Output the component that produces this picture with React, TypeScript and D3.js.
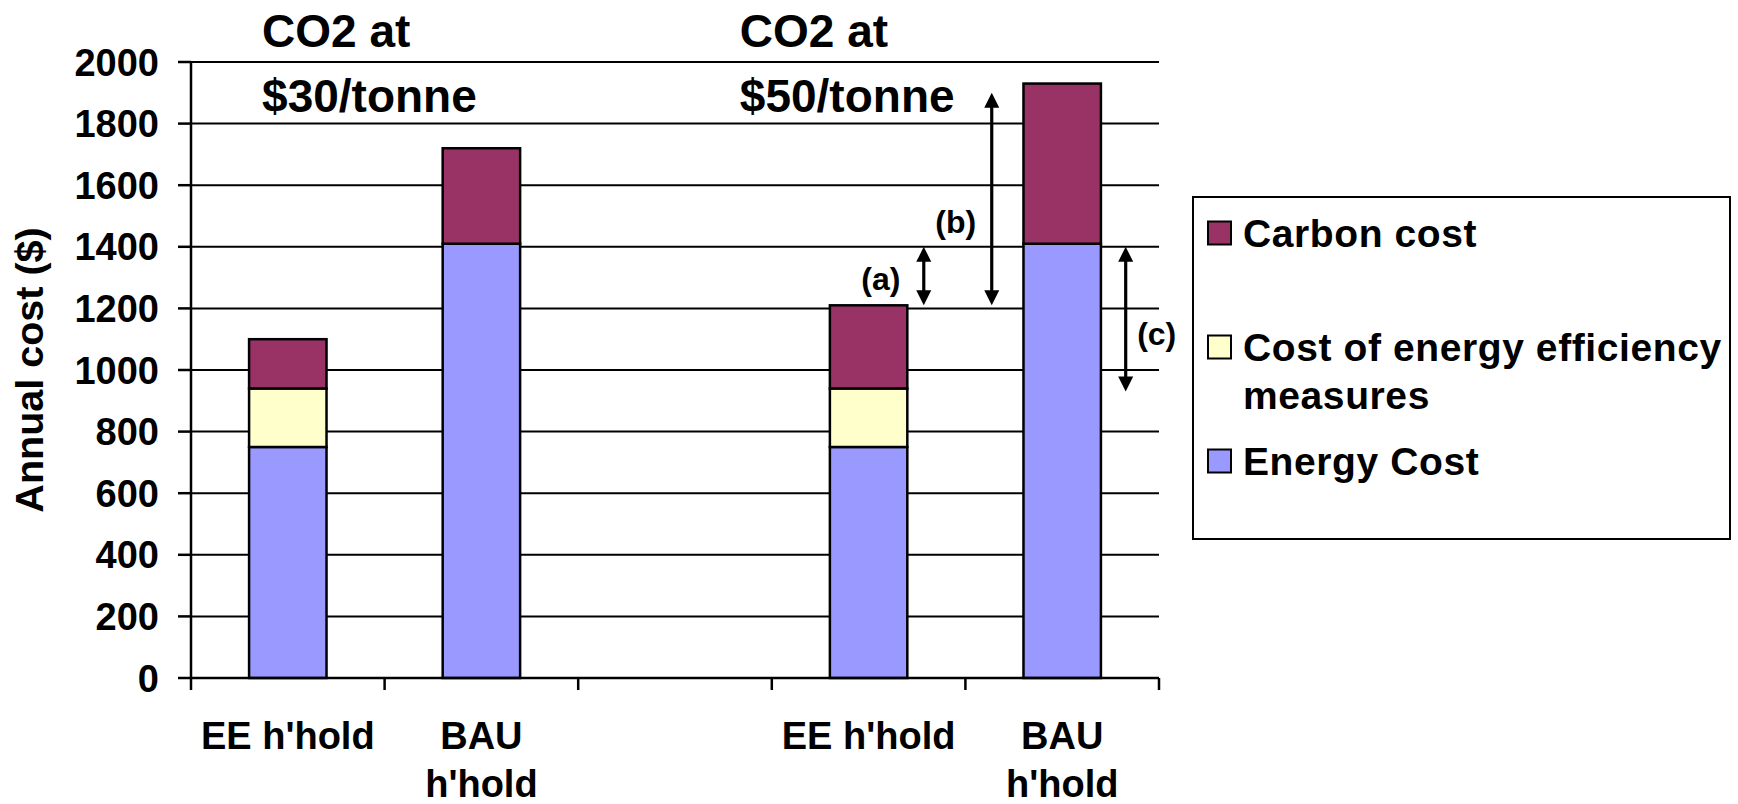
import React from 'react';
import * as d3 from 'd3';

// categories (the middle one is an empty spacer slot)
const categoryIds = ['ee30', 'bau30', 'gap', 'ee50', 'bau50'];
const categoryLabels = [["EE h'hold"], ['BAU', "h'hold"], [], ["EE h'hold"], ['BAU', "h'hold"]];

// series values ($ per year)
const energyCost = [750, 1410, 0, 750, 1410];
const eeMeasures = [190, 0, 0, 190, 0];
const carbonCost = [160, 310, 0, 270, 520];

const yTicks = [0, 200, 400, 600, 800, 1000, 1200, 1400, 1600, 1800, 2000];

const seriesKeys = ['energy', 'ee', 'carbon'];
const seriesColors: Record<string, string> = {
  energy: '#9999FF',
  ee: '#FFFFCC',
  carbon: '#993366',
};
const legendItems = [
  { key: 'carbon', lines: ['Carbon cost'] },
  { key: 'ee', lines: ['Cost of energy efficiency', 'measures'] },
  { key: 'energy', lines: ['Energy Cost'] },
];

// panel titles, placed as a fraction of the band from its left edge
const titles = [
  { cat: 'ee30', frac: 0.367, lines: ['CO2 at', '$30/tonne'] },
  { cat: 'ee50', frac: -0.165, lines: ['CO2 at', '$50/tonne'] },
];

// annotation arrows: from/to in $, position as fraction of the band
const arrows = [
  { label: '(a)', cat: 'ee50', frac: 0.785, from: 1400, to: 1210, labelAt: 1260, labelDx: -43 },
  { label: '(b)', cat: 'bau50', frac: 0.136, from: 1900, to: 1210, labelAt: 1445, labelDx: -36 },
  { label: '(c)', cat: 'bau50', frac: 0.828, from: 1400, to: 930, labelAt: 1081, labelDx: 31 },
];

const FONT = '"Liberation Sans", Arial, Helvetica, sans-serif';

export default function App() {
  const width = 1738;
  const height = 804;
  const plot = { left: 191, right: 1159, top: 62, bottom: 678 };

  const x = d3.scaleBand<string>().domain(categoryIds).range([plot.left, plot.right]).padding(0);
  const y = d3.scaleLinear().domain([0, 2000]).range([plot.bottom, plot.top]);
  const bw = x.bandwidth();
  const barW = bw / 2.5;

  const rows = categoryIds.map((id, i) => ({
    id,
    energy: energyCost[i],
    ee: eeMeasures[i],
    carbon: carbonCost[i],
  }));
  const stacked = d3.stack<any>().keys(seriesKeys)(rows);

  const arrowHead = (xc: number, yTip: number, dir: number) => {
    const hw = 7.5;
    const hl = 15;
    return `M${xc},${yTip} L${xc - hw},${yTip + dir * hl} L${xc + hw},${yTip + dir * hl} Z`;
  };

  return (
    <svg
      width={width}
      height={height}
      style={{ position: 'absolute', left: 0, top: 0, background: '#fff' }}
      fontFamily={FONT}
      fontWeight="bold"
    >
      <rect x={0} y={0} width={width} height={height} fill="#fff" />

      {/* gridlines */}
      {yTicks.filter(t => t > 0).map(t => (
        <line key={t} x1={plot.left} x2={plot.right} y1={y(t)} y2={y(t)} stroke="#000" strokeWidth={2} />
      ))}

      {/* titles */}
      {titles.map(t => {
        const tx = x(t.cat)! + t.frac * bw;
        return (
          <text key={t.cat} x={tx} y={47} fontSize={46} fill="#000">
            {t.lines.map((l, i) => (
              <tspan key={i} x={tx} dy={i === 0 ? 0 : 65}>{l}</tspan>
            ))}
          </text>
        );
      })}

      {/* bars */}
      {stacked.map(s => (
        <g key={s.key}>
          {s.map((d, i) => {
            const h = y(d[0]) - y(d[1]);
            if (h <= 0) return null;
            const cx = x(categoryIds[i])! + bw / 2;
            return (
              <rect
                key={i}
                x={cx - barW / 2}
                y={y(d[1])}
                width={barW}
                height={h}
                fill={seriesColors[s.key]}
                stroke="#000"
                strokeWidth={2.5}
              />
            );
          })}
        </g>
      ))}

      {/* y axis */}
      <line x1={plot.left} x2={plot.left} y1={plot.top} y2={plot.bottom} stroke="#000" strokeWidth={2.5} />
      {yTicks.map(t => (
        <g key={t}>
          <line x1={plot.left - 13} x2={plot.left} y1={y(t)} y2={y(t)} stroke="#000" strokeWidth={2.5} />
          <text x={plot.left - 32} y={y(t) + 13.5} fontSize={38} textAnchor="end" fill="#000">{t}</text>
        </g>
      ))}
      <text
        transform={`translate(43,${(plot.top + plot.bottom) / 2}) rotate(-90)`}
        fontSize={39.5}
        textAnchor="middle"
        fill="#000"
      >
        Annual cost ($)
      </text>

      {/* x axis */}
      <line x1={plot.left} x2={plot.right} y1={plot.bottom} y2={plot.bottom} stroke="#000" strokeWidth={2.5} />
      {[...categoryIds.map(c => x(c)!), plot.right].map((tx, i) => (
        <line key={i} x1={tx} x2={tx} y1={plot.bottom} y2={plot.bottom + 12} stroke="#000" strokeWidth={2.5} />
      ))}
      {categoryIds.map((c, i) => (
        <text key={c} x={x(c)! + bw / 2} y={749} fontSize={38} textAnchor="middle" fill="#000">
          {categoryLabels[i].map((l, j) => (
            <tspan key={j} x={x(c)! + bw / 2} dy={j === 0 ? 0 : 48}>{l}</tspan>
          ))}
        </text>
      ))}

      {/* annotation arrows */}
      {arrows.map(a => {
        const ax = x(a.cat)! + a.frac * bw;
        const yTop = y(a.from);
        const yBot = y(a.to);
        return (
          <g key={a.label}>
            <line x1={ax} x2={ax} y1={yTop + 12} y2={yBot - 12} stroke="#000" strokeWidth={3.2} />
            <path d={arrowHead(ax, yTop, 1)} fill="#000" />
            <path d={arrowHead(ax, yBot, -1)} fill="#000" />
            <text x={ax + a.labelDx} y={y(a.labelAt)} fontSize={32} textAnchor="middle" fill="#000">
              {a.label}
            </text>
          </g>
        );
      })}

      {/* legend */}
      <rect x={1193} y={197} width={537} height={342} fill="#fff" stroke="#000" strokeWidth={2} />
      {legendItems.map((item, i) => {
        const cy = 233 + i * 114;
        return (
          <g key={item.key}>
            <rect x={1208} y={cy - 11.5} width={23} height={23} fill={seriesColors[item.key]} stroke="#000" strokeWidth={2} />
            <text x={1243} y={cy + 14} fontSize={39} letterSpacing={0.6} fill="#000">
              {item.lines.map((l, j) => (
                <tspan key={j} x={1243} dy={j === 0 ? 0 : 48}>{l}</tspan>
              ))}
            </text>
          </g>
        );
      })}
    </svg>
  );
}
